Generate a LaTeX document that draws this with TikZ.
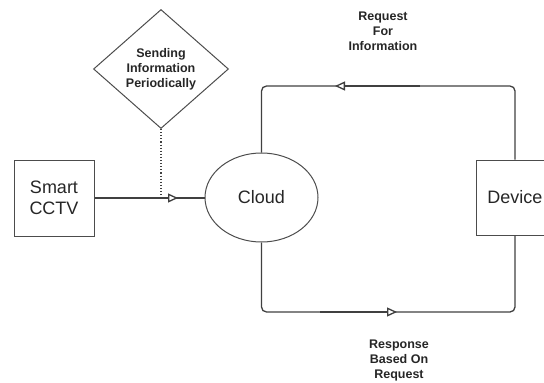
\documentclass[tikz,border=0pt]{standalone}
\usepackage{fontspec}
\setmainfont{Liberation Sans}
\usetikzlibrary{arrows.meta,positioning,shapes.geometric}

\begin{document}
\begin{tikzpicture}[x=1pt,y=-1pt,
		ln/.style={draw=black!75,line width=1.3pt},
		arr/.style={ln,-{Triangle[open,fill=white,length=10pt,width=9pt]}},
		box/.style={draw=black!70,line width=1pt,text=black!85,font=\fontsize{18}{21}\selectfont,align=center,inner sep=0pt},
		lab/.style={text=black!85,font=\bfseries\fontsize{12.5}{15}\selectfont,align=center},
		note/.style={diamond,draw=black!70,line width=1pt,inner sep=0pt,aspect=1.13,minimum width=135pt,minimum height=119pt}
		]
		\useasboundingbox (0,0) rectangle (544,383);
		
		% --- Blocks
		\node[box,minimum width=80pt,minimum height=76pt] (cctv) at (54,198) {Smart\\CCTV};
		\node[box,ellipse,minimum width=113pt,minimum height=89pt] (cloud) at (261.5,197.5) {Cloud};
		\node[box,minimum width=78pt,minimum height=75pt] (dev) at (515,197.5) {Device};
		\node[note,lab] (send) at (161,69) {Sending\\Information\\Periodically};
		
		% --- CCTV to cloud, with the periodic note dropping onto it
		\coordinate (tipA) at (178,198);
		\draw[ln] (cctv.east |- tipA) -- (cloud.west |- tipA);
		\draw[arr] (cctv.east |- tipA) -- (tipA);
		\draw[black!75,line width=1.1pt,dotted] (send.south) -- (send.south |- tipA);
		
		% --- Request loop (top)
		\coordinate (tr) at (dev.north |- 0,86);
		\coordinate (fromB) at (420,86);
		\coordinate (tipB) at (335,86);
		\draw[ln,rounded corners=5pt] (dev.north) -- (tr) -- (cloud.north |- tr) -- (cloud.north);
		\draw[arr] (fromB) -- (tipB);
		\node[lab] (req) at (383,31) {Request\\For\\Information};
		
		% --- Response loop (bottom)
		\coordinate (bl) at (cloud.south |- 0,312);
		\coordinate (fromC) at (320,312);
		\coordinate (tipC) at (397,312);
		\draw[ln,rounded corners=5pt] (cloud.south) -- (bl) -- (dev.south |- bl) -- (dev.south);
		\draw[arr] (fromC) -- (tipC);
		\node[lab] (resp) at (399,360) {Response\\Based On\\Request};
		
	\end{tikzpicture}
\end{document}
